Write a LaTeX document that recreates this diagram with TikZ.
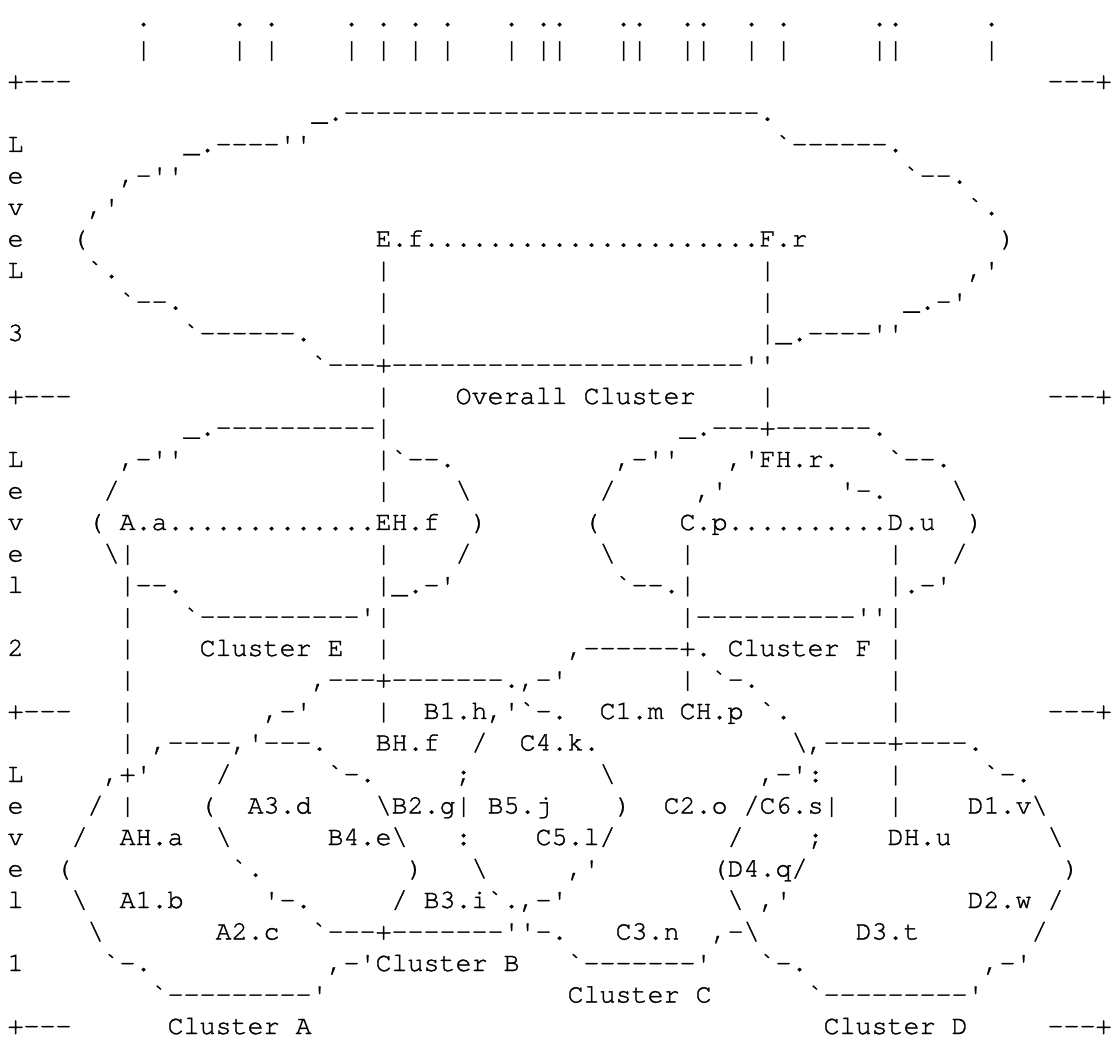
\documentclass[tikz,border=0pt]{standalone}
\usepackage{fontspec}
\setmonofont{TeX Gyre Cursor}[FakeBold=1.2]
\newcommand\bs{\textbackslash}
\newcommand\asc[3]{\node[tx] (t#1x#2) at ({7.6+16*#2},{1019-31.5*#1}) {#3};}
\begin{document}
\begin{tikzpicture}[x=1pt,y=1pt,
  tx/.style={inner sep=0pt,outer sep=0pt,anchor=base west,text=black,
    font=\ttfamily\fontsize{26.66}{32}\selectfont}]
\fill[white] (0,0) rectangle (1111,1045);
\useasboundingbox (0,0) rectangle (1111,1045);
\frenchspacing
\foreach \c in {8,14,16,21,23,25,27,31,33,34,38,39,42,43,46,48,54,55,61} {\asc{0}{\c}{.}\asc{1}{\c}{|}}
\asc{2}{0}{+---}
\asc{2}{65}{---+}
\asc{3}{19}{\_.--------------------------.}
\asc{4}{0}{L}
\asc{4}{11}{\_.----''}
\asc{4}{48}{`------.}
\asc{5}{0}{e}
\asc{5}{7}{,-''}
\asc{5}{56}{`--.}
\asc{6}{0}{v}
\asc{6}{5}{,'}
\asc{6}{60}{`.}
\asc{7}{0}{e}
\asc{7}{4}{(}
\asc{7}{23}{E.f.....................F.r}
\asc{7}{62}{)}
\asc{8}{0}{L}
\asc{8}{5}{`.}
\asc{8}{23}{|}
\asc{8}{47}{|}
\asc{8}{60}{,'}
\asc{9}{7}{`--.}
\asc{9}{23}{|}
\asc{9}{47}{|}
\asc{9}{56}{\_.-'}
\asc{10}{0}{3}
\asc{10}{11}{`------.}
\asc{10}{23}{|}
\asc{10}{47}{|\_.----''}
\asc{11}{19}{`---+----------------------''}
\asc{12}{0}{+---}
\asc{12}{23}{|}
\asc{12}{28}{Overall}
\asc{12}{36}{Cluster}
\asc{12}{47}{|}
\asc{12}{65}{---+}
\asc{13}{11}{\_.----------|}
\asc{13}{42}{\_.---+------.}
\asc{14}{0}{L}
\asc{14}{7}{,-''}
\asc{14}{23}{|`--.}
\asc{14}{38}{,-''}
\asc{14}{45}{,'FH.r.}
\asc{14}{55}{`--.}
\asc{15}{0}{e}
\asc{15}{6}{/}
\asc{15}{23}{|}
\asc{15}{28}{\bs}
\asc{15}{37}{/}
\asc{15}{43}{,'}
\asc{15}{52}{'-.}
\asc{15}{59}{\bs}
\asc{16}{0}{v}
\asc{16}{5}{(}
\asc{16}{7}{A.a.............EH.f}
\asc{16}{29}{)}
\asc{16}{36}{(}
\asc{16}{42}{C.p..........D.u}
\asc{16}{60}{)}
\asc{17}{0}{e}
\asc{17}{6}{\bs|}
\asc{17}{23}{|}
\asc{17}{28}{/}
\asc{17}{37}{\bs}
\asc{17}{42}{|}
\asc{17}{55}{|}
\asc{17}{59}{/}
\asc{18}{0}{l}
\asc{18}{7}{|--.}
\asc{18}{23}{|\_.-'}
\asc{18}{38}{`--.|}
\asc{18}{55}{|.-'}
\asc{19}{7}{|}
\asc{19}{11}{`----------'|}
\asc{19}{42}{|----------''|}
\asc{20}{0}{2}
\asc{20}{7}{|}
\asc{20}{12}{Cluster}
\asc{20}{20}{E}
\asc{20}{23}{|}
\asc{20}{35}{,------+.}
\asc{20}{45}{Cluster}
\asc{20}{53}{F}
\asc{20}{55}{|}
\asc{21}{7}{|}
\asc{21}{19}{,---+-------.,-'}
\asc{21}{42}{|}
\asc{21}{44}{`-.}
\asc{21}{55}{|}
\asc{22}{0}{+---}
\asc{22}{7}{|}
\asc{22}{16}{,-'}
\asc{22}{23}{|}
\asc{22}{26}{B1.h,'`-.}
\asc{22}{37}{C1.m}
\asc{22}{42}{CH.p}
\asc{22}{47}{`.}
\asc{22}{55}{|}
\asc{22}{65}{---+}
\asc{23}{7}{|}
\asc{23}{9}{,----,'---.}
\asc{23}{23}{BH.f}
\asc{23}{29}{/}
\asc{23}{32}{C4.k.}
\asc{23}{49}{\bs,----+----.}
\asc{24}{0}{L}
\asc{24}{6}{,+'}
\asc{24}{13}{/}
\asc{24}{20}{`-.}
\asc{24}{28}{;}
\asc{24}{37}{\bs}
\asc{24}{47}{,-':}
\asc{24}{55}{|}
\asc{24}{61}{`-.}
\asc{25}{0}{e}
\asc{25}{5}{/}
\asc{25}{7}{|}
\asc{25}{12}{(}
\asc{25}{15}{A3.d}
\asc{25}{23}{\bs B2.g|}
\asc{25}{30}{B5.j}
\asc{25}{38}{)}
\asc{25}{41}{C2.o}
\asc{25}{46}{/C6.s|}
\asc{25}{55}{|}
\asc{25}{60}{D1.v\bs}
\asc{26}{0}{v}
\asc{26}{4}{/}
\asc{26}{7}{AH.a}
\asc{26}{13}{\bs}
\asc{26}{20}{B4.e\bs}
\asc{26}{28}{:}
\asc{26}{33}{C5.l/}
\asc{26}{45}{/}
\asc{26}{50}{;}
\asc{26}{55}{DH.u}
\asc{26}{65}{\bs}
\asc{27}{0}{e}
\asc{27}{3}{(}
\asc{27}{14}{`.}
\asc{27}{25}{)}
\asc{27}{29}{\bs}
\asc{27}{35}{,'}
\asc{27}{44}{(D4.q/}
\asc{27}{66}{)}
\asc{28}{0}{l}
\asc{28}{4}{\bs}
\asc{28}{7}{A1.b}
\asc{28}{16}{'-.}
\asc{28}{24}{/}
\asc{28}{26}{B3.i`.,-'}
\asc{28}{45}{\bs}
\asc{28}{47}{,'}
\asc{28}{60}{D2.w}
\asc{28}{65}{/}
\asc{29}{5}{\bs}
\asc{29}{13}{A2.c}
\asc{29}{19}{`---+-------''-.}
\asc{29}{38}{C3.n}
\asc{29}{44}{,-\bs}
\asc{29}{53}{D3.t}
\asc{29}{64}{/}
\asc{30}{0}{1}
\asc{30}{6}{`-.}
\asc{30}{20}{,-'Cluster}
\asc{30}{31}{B}
\asc{30}{35}{`-------'}
\asc{30}{47}{`-.}
\asc{30}{61}{,-'}
\asc{31}{9}{`---------'}
\asc{31}{35}{Cluster}
\asc{31}{43}{C}
\asc{31}{50}{`---------'}
\asc{32}{0}{+---}
\asc{32}{10}{Cluster}
\asc{32}{18}{A}
\asc{32}{51}{Cluster}
\asc{32}{59}{D}
\asc{32}{65}{---+}
\end{tikzpicture}
\end{document}
